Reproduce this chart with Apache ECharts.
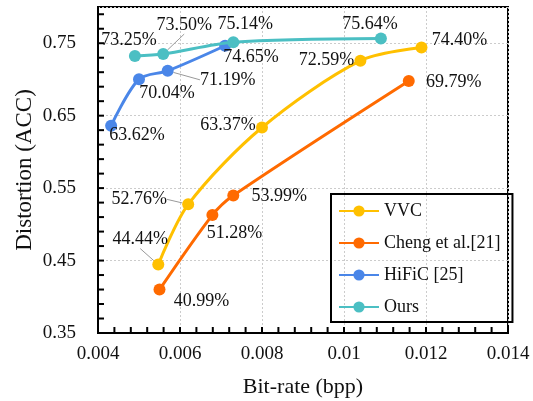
<!DOCTYPE html>
<html>
<head>
<meta charset="utf-8">
<script src="https://cdn.jsdelivr.net/npm/echarts@6/dist/echarts.min.js"></script>
<style>html,body{margin:0;padding:0;background:#fff}#c{width:533px;height:401px}</style>
</head>
<body>
<div id="c"></div>
<script>
// ---- data ----
const seriesNames = ['VVC', 'Cheng et al.[21]', 'HiFiC [25]', 'Ours'];
const vvcX = [0.00547, 0.0062, 0.0080, 0.0104, 0.01189];
const vvcY = [0.4444, 0.5276, 0.6337, 0.7259, 0.7440];
const chengX = [0.0055, 0.00679, 0.0073, 0.01158];
const chengY = [0.4099, 0.5128, 0.5399, 0.6979];
const hificX = [0.00432, 0.0050, 0.0057, 0.0071];
const hificY = [0.6362, 0.7004, 0.7119, 0.7465];
const oursX = [0.0049, 0.00559, 0.0073, 0.0109];
const oursY = [0.7325, 0.7350, 0.7514, 0.7564];
const xTicks = [0.004, 0.006, 0.008, 0.01, 0.012, 0.014];
const yTicks = [0.35, 0.45, 0.55, 0.65, 0.75];
// tick-mark positions along the axes
const xTickMarks = [0.004, 0.0044, 0.0048, 0.0052, 0.0056, 0.006, 0.0064, 0.0068, 0.0072, 0.0076,
  0.008, 0.0084, 0.0088, 0.0092, 0.0096, 0.01, 0.0104, 0.0108, 0.0112, 0.0116, 0.012, 0.0124,
  0.0128, 0.0132, 0.0136, 0.014];
const yTickMarks = [0.35, 0.37, 0.39, 0.41, 0.43, 0.45, 0.47, 0.49, 0.51, 0.53, 0.55, 0.57, 0.59,
  0.61, 0.63, 0.65, 0.67, 0.69, 0.71, 0.73, 0.75, 0.77, 0.79];

// ---- layout (label offsets in px, leader-line flags) ----
const labelOffsets = [
  [[-18, -25], [-49, -5], [-34, -2], [-34, 0], [38, -7]],
  [[42, 12], [22, 18], [46, 1], [45, 1]],
  [[26, 10], [28, 14], [60, 9], [26, 12]],
  [[-6, -16], [21, -29], [12, -18], [-11, -14]]
];
const leaders = [
  [true, true, false, false, false],
  [false, false, false, false],
  [false, false, true, false],
  [false, true, false, false]
];
const colors = ['#FFC000', '#FF6A00', '#4A86E8', '#4BBFC3'];
const FONT = 'Liberation Serif';
const TICK_LEN = 6;

const xs = [vvcX, chengX, hificX, oursX];
const ys = [vvcY, chengY, hificY, oursY];
const yMin = yTicks[0], yMax = 0.8;
const xMin = xTicks[0], xMax = xTicks[xTicks.length - 1];

const chart = echarts.init(document.getElementById('c'));
const series = seriesNames.map((name, si) => ({
  name: name,
  type: 'line',
  smooth: 0.3,
  symbol: 'circle',
  symbolSize: 12,
  color: colors[si],
  lineStyle: { width: 3, color: colors[si] },
  itemStyle: { color: colors[si] },
  data: xs[si].map((x, i) => ({
    value: [x, ys[si][i]],
    labelLine: { show: leaders[si][i], lineStyle: { color: '#999', width: 1 } }
  })),
  label: {
    show: true,
    position: 'inside',
    fontFamily: FONT,
    fontSize: 18,
    color: '#111',
    formatter: p => (p.value[1] * 100).toFixed(2) + '%'
  },
  labelLayout: p => {
    const o = labelOffsets[p.seriesIndex][p.dataIndex];
    return { dx: o[0], dy: o[1] };
  },
  z: 3 + si
}));

// axis tick marks, placed through the axes' own scales
const tickData = xTickMarks.map(v => [v, yMin, 0]).concat(yTickMarks.map(v => [xMin, v, 1]));
series.push({
  type: 'custom',
  name: 'ticks',
  coordinateSystem: 'cartesian2d',
  silent: true,
  clip: false,
  z: 20,
  encode: { x: 0, y: 1 },
  dimensions: ['x', 'y', 'kind'],
  data: tickData,
  renderItem: function (params, api) {
    const p = api.coord([api.value(0), api.value(1)]);
    const horiz = api.value(2) === 1;
    return {
      type: 'line',
      z2: 100,
      shape: horiz ? { x1: p[0], y1: p[1], x2: p[0] + TICK_LEN, y2: p[1] }
                   : { x1: p[0], y1: p[1], x2: p[0], y2: p[1] - TICK_LEN },
      style: { stroke: '#000', lineWidth: 2, fill: null }
    };
  }
});

chart.setOption({
  animation: false,
  grid: { left: 98, right: 25, top: 7, bottom: 68,
    outerBoundsContain: 'axisLabel', outerBounds: { left: 0, top: 0, right: 0, bottom: 0 },
    show: true, borderColor: '#000', borderWidth: 2, backgroundColor: 'transparent' },
  xAxis: {
    type: 'value', min: xMin, max: xMax, interval: 0.002,
    name: 'Bit-rate (bpp)', nameLocation: 'middle', nameGap: 43, nameMoveOverlap: false,
    nameTextStyle: { fontFamily: FONT, fontSize: 22, color: '#111' },
    axisLine: { show: true, onZero: false, lineStyle: { color: '#000', width: 2 } },
    axisTick: { show: true, inside: true, length: 6, lineStyle: { color: '#000', width: 2 } },
    axisLabel: { fontFamily: FONT, fontSize: 19, color: '#111', margin: 12 },
    splitLine: { show: true, lineStyle: { color: '#ccc', type: [2, 2], width: 1 } }
  },
  yAxis: {
    type: 'value', min: yMin, max: yMax, interval: 0.1, position: 'left',
    name: 'Distortion (ACC)', nameLocation: 'middle', nameGap: 62, nameMoveOverlap: false,
    nameTextStyle: { fontFamily: FONT, fontSize: 23, color: '#111' },
    axisLine: { show: true, onZero: false, lineStyle: { color: '#000', width: 2 } },
    axisTick: { show: false },
    axisLabel: { fontFamily: FONT, fontSize: 19, color: '#111', margin: 22, showMaxLabel: false,
      formatter: v => yTicks.some(t => Math.abs(t - v) < 1e-9) ? v.toFixed(2) : '' },
    splitLine: { show: true, lineStyle: { color: '#ccc', type: [2, 2], width: 1 } }
  },
  legend: {
    orient: 'vertical', left: 331, top: 194,
    padding: [8, 12, 6, 7],
    itemGap: 14, itemWidth: 40, itemHeight: 14,
    borderColor: '#000', borderWidth: 2, backgroundColor: 'transparent',
    textStyle: { fontFamily: FONT, fontSize: 18, color: '#111' },
    data: seriesNames
  },
  series: series
});
</script>
</body>
</html>
